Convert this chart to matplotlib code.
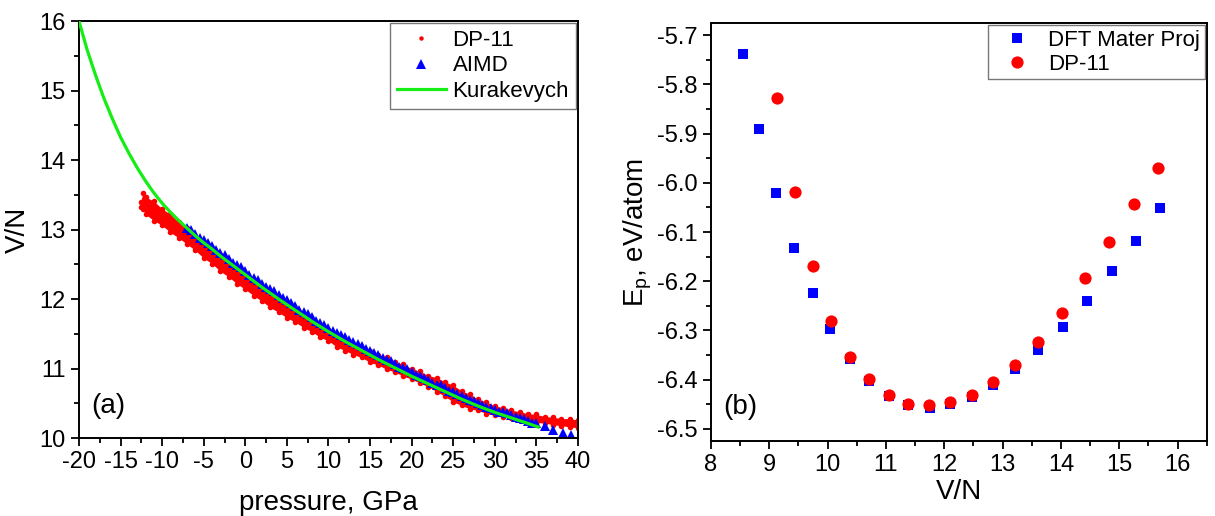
"""Two-panel figure: (a) V/N vs pressure EOS, (b) energy per atom vs V/N."""

import matplotlib
matplotlib.use("Agg")
import matplotlib.pyplot as plt
from matplotlib.ticker import MultipleLocator

plt.rcParams["font.family"] = ["Liberation Sans", "DejaVu Sans"]
plt.rcParams["mathtext.fontset"] = "custom"
plt.rcParams["mathtext.rm"] = "Liberation Sans"
plt.rcParams["mathtext.it"] = "Liberation Sans:italic"
plt.rcParams["axes.unicode_minus"] = False

# ---------------------------------------------------------------- panel (a)
# DP-11 MD cloud: lower / upper edge of the point band at each pressure
dp_p = [-12.6, -12.3, -12, -11, -10, -9, -8, -7, -6, -5, -4, -3, -2, -1, 0,
        1, 2, 3, 4, 5, 6, 7, 8, 9, 10, 11, 12, 13, 14, 15, 16, 17, 18, 19,
        20, 21, 22, 23, 24, 25, 26, 27, 28, 29, 30, 31, 32, 33, 34, 35, 36,
        37, 38, 39, 40]
dp_v_lo = [13.32, 13.30, 13.22, 13.13, 13.06, 12.96, 12.88, 12.79, 12.70,
           12.59, 12.51, 12.40, 12.32, 12.22, 12.14, 12.05, 11.97, 11.88,
           11.81, 11.73, 11.67, 11.59, 11.53, 11.45, 11.40, 11.31, 11.26,
           11.20, 11.16, 11.09, 11.05, 10.99, 10.95, 10.89, 10.85, 10.79,
           10.74, 10.67, 10.60, 10.52, 10.47, 10.42, 10.40, 10.35, 10.33,
           10.30, 10.29, 10.26, 10.25, 10.22, 10.22, 10.19, 10.18, 10.16,
           10.15]
dp_v_hi = [13.40, 13.53, 13.47, 13.41, 13.30, 13.22, 13.11, 13.02, 12.90,
           12.81, 12.71, 12.63, 12.52, 12.44, 12.35, 12.27, 12.17, 12.09,
           12.00, 11.93, 11.84, 11.78, 11.70, 11.63, 11.55, 11.48, 11.40,
           11.36, 11.30, 11.26, 11.20, 11.16, 11.10, 11.06, 11.00, 10.96,
           10.90, 10.87, 10.81, 10.76, 10.68, 10.63, 10.56, 10.52, 10.46,
           10.44, 10.40, 10.38, 10.35, 10.34, 10.31, 10.30, 10.28, 10.28,
           10.26]

# AIMD points (integer and half-integer pressures)
aimd_p = [-7, -6, -5, -4, -3, -2, -1, 0, 1, 2, 3, 4, 5, 6, 7, 8, 9, 10, 11,
          12, 13, 14, 15, 16, 17, 18, 19, 20, 21, 22, 23, 24, 25, 26, 27, 28,
          29, 30, 31, 32, 33, 34, 35, 36, 37, 38.2, 39.2]
aimd_v = [13.02, 12.94, 12.85, 12.76, 12.67, 12.58, 12.49, 12.40, 12.31,
          12.22, 12.14, 12.06, 11.98, 11.90, 11.82, 11.74, 11.66, 11.58,
          11.51, 11.45, 11.38, 11.32, 11.26, 11.19, 11.13, 11.07, 11.01,
          10.95, 10.89, 10.83, 10.77, 10.72, 10.66, 10.61, 10.55, 10.50,
          10.45, 10.41, 10.37, 10.33, 10.29, 10.25, 10.21, 10.17, 10.12,
          10.08, 10.04]
aimd_p_half = [-6.5, -5.5, -4.5, -3.5, -2.5, -1.5, -0.5, 0.5, 1.5, 2.5, 3.5,
               4.5, 5.5, 6.5, 7.5, 8.5, 9.5, 10.5, 11.5, 12.5, 13.5, 14.5,
               15.5, 16.5, 17.5, 18.5, 19.5, 20.5, 21.5, 22.5, 23.5, 24.5,
               25.5, 26.5, 27.5, 28.5, 29.5, 30.5, 31.5, 32.5, 33.5, 34.5]
aimd_v_half = [12.99, 12.88, 12.81, 12.70, 12.63, 12.52, 12.46, 12.35, 12.28,
               12.17, 12.11, 12.01, 11.95, 11.85, 11.79, 11.69, 11.63, 11.54,
               11.49, 11.41, 11.36, 11.28, 11.23, 11.15, 11.11, 11.03, 10.99,
               10.91, 10.87, 10.79, 10.76, 10.68, 10.64, 10.57, 10.53, 10.47,
               10.44, 10.38, 10.36, 10.30, 10.28, 10.22]

# Kurakevych EOS curve
kur_p = [-20, -19, -18, -17, -16, -15, -14, -13, -12, -11, -10, -9, -8, -7,
         -6, -5, -4, -3, -2, -1, 0, 2, 4, 6, 8, 10, 12, 14, 16, 18, 20, 22,
         24, 26, 28, 30, 32, 34, 35.2]
kur_v = [16.00, 15.58, 15.22, 14.89, 14.60, 14.33, 14.10, 13.89, 13.70,
         13.53, 13.38, 13.25, 13.13, 13.02, 12.91, 12.81, 12.72, 12.62,
         12.53, 12.44, 12.35, 12.17, 12.00, 11.84, 11.68, 11.53, 11.39,
         11.26, 11.13, 11.01, 10.89, 10.78, 10.67, 10.56, 10.46, 10.37,
         10.29, 10.21, 10.16]

# ---------------------------------------------------------------- panel (b)
dft_vn = [8.55, 8.83, 9.12, 9.42, 9.75, 10.04, 10.38, 10.71, 11.05, 11.38,
          11.75, 12.10, 12.48, 12.84, 13.22, 13.61, 14.04, 14.45, 14.87,
          15.28, 15.69]
dft_ep = [-5.739, -5.891, -6.020, -6.132, -6.223, -6.297, -6.358, -6.403,
          -6.433, -6.451, -6.457, -6.449, -6.435, -6.411, -6.378, -6.340,
          -6.293, -6.240, -6.179, -6.118, -6.052]

dp11_vn = [9.13, 9.44, 9.75, 10.06, 10.39, 10.71, 11.05, 11.38, 11.74, 12.10,
           12.48, 12.84, 13.22, 13.60, 14.02, 14.42, 14.83, 15.26, 15.67]
dp11_ep = [-5.828, -6.018, -6.170, -6.280, -6.354, -6.399, -6.431, -6.449,
           -6.452, -6.445, -6.431, -6.405, -6.370, -6.323, -6.264, -6.193,
           -6.120, -6.044, -5.969]

RED = "#ff0000"
BLUE = "#0000ff"
GREEN = "#14ee14"

TICK_FS = 17
LABEL_FS = 20
LEG_FS = 16


def style_axes(ax):
    for sp in ax.spines.values():
        sp.set_linewidth(1.4)
    ax.tick_params(which="both", direction="out", top=False, right=False,
                   labelsize=TICK_FS, width=1.3)
    ax.tick_params(which="major", length=6)
    ax.tick_params(which="minor", length=3.5)


fig = plt.figure(figsize=(12.15, 5.16), dpi=100)

# (a)
ax1 = fig.add_axes([0.065, 0.151, 0.4107, 0.808])
ax1.fill_between(dp_p, dp_v_lo, dp_v_hi, color=RED, lw=0, zorder=1)
ax1.plot(dp_p, dp_v_lo, "o", ms=4, color=RED, mew=0, zorder=1)
ax1.plot(dp_p, dp_v_hi, "o", ms=4, color=RED, mew=0, zorder=1)
ax1.plot([], [], "o", ms=3.2, color=RED, mew=0, label="DP-11")
ax1.plot(aimd_p_half, aimd_v_half, "^", ms=6.5, color=BLUE, mew=0, zorder=2)
ax1.plot(aimd_p, aimd_v, "^", ms=6.5, color=BLUE, mew=0, zorder=2,
         label="AIMD")
ax1.plot(kur_p, kur_v, "-", lw=2.3, color=GREEN, zorder=3,
         label="Kurakevych")
ax1.set_xlim(-20, 40)
ax1.set_ylim(10, 16)
ax1.xaxis.set_major_locator(MultipleLocator(5))
ax1.xaxis.set_minor_locator(MultipleLocator(2.5))
ax1.yaxis.set_major_locator(MultipleLocator(1))
ax1.yaxis.set_minor_locator(MultipleLocator(0.5))
style_axes(ax1)
ax1.set_xlabel("pressure, GPa", fontsize=LABEL_FS, labelpad=12)
ax1.set_ylabel("V/N", fontsize=LABEL_FS, labelpad=6)
ax1.text(0.025, 0.045, "(a)", transform=ax1.transAxes, fontsize=LABEL_FS,
         ha="left", va="bottom")
leg1 = ax1.legend(loc="upper right", fontsize=LEG_FS, frameon=True,
                  fancybox=False, borderaxespad=0.1, handlelength=2.2,
                  handletextpad=0.3, borderpad=0.3, labelspacing=0.2)
leg1.get_frame().set_edgecolor("#555555")
leg1.get_frame().set_linewidth(1.0)

# (b)
ax2 = fig.add_axes([0.585, 0.1453, 0.4083, 0.8101])
ax2.plot(dft_vn, dft_ep, "s", ms=7.9, color=BLUE, mew=0, zorder=2,
         label="DFT Mater Proj")
ax2.plot(dp11_vn, dp11_ep, "o", ms=8.8, color=RED, mew=0, zorder=3,
         label="DP-11")
ax2.set_xlim(8, 16.5)
ax2.set_ylim(-6.525, -5.675)
ax2.xaxis.set_major_locator(MultipleLocator(1))
ax2.xaxis.set_minor_locator(MultipleLocator(0.5))
ax2.yaxis.set_major_locator(MultipleLocator(0.1))
ax2.yaxis.set_minor_locator(MultipleLocator(0.05))
ax2.yaxis.set_major_formatter(plt.FuncFormatter(lambda v, _: f"{v:.1f}"))
style_axes(ax2)
ax2.set_xlabel("V/N", fontsize=LABEL_FS, labelpad=2)
ax2.set_ylabel(r"E$_\mathrm{p}$, eV/atom", fontsize=LABEL_FS, labelpad=2)
ax2.text(0.025, 0.05, "(b)", transform=ax2.transAxes, fontsize=LABEL_FS,
         ha="left", va="bottom")
leg2 = ax2.legend(loc="upper right", fontsize=LEG_FS, frameon=True,
                  fancybox=False, borderaxespad=0.1, handlelength=2.2,
                  handletextpad=0.3, borderpad=0.2, labelspacing=0.15)
leg2.get_frame().set_edgecolor("#555555")
leg2.get_frame().set_linewidth(1.0)

fig.savefig("out.png", dpi=100)
